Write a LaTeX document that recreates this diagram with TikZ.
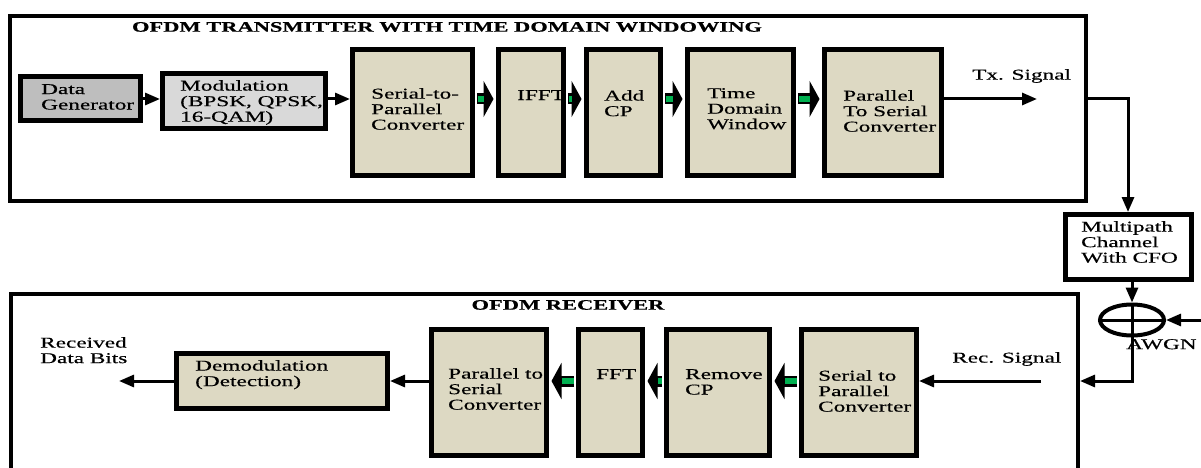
\documentclass[tikz,border=0pt]{standalone}
\usepackage{fontspec}
\setmainfont{Liberation Serif}[FakeStretch=1.55, FakeBold=0.4]
\usetikzlibrary{arrows.meta,shapes.geometric}
\definecolor{blocktan}{RGB}{221,217,195}
\definecolor{gengray}{RGB}{190,190,190}
\definecolor{modgray}{RGB}{217,217,217}
\definecolor{gconn}{RGB}{0,176,80}
\begin{document}
\begin{tikzpicture}[x=1pt,y=-1pt,
  lbl/.style={font=\fontsize{15}{15.5}\selectfont},
  txt/.style={lbl, anchor=north west, inner sep=0pt, align=left},
  ttl/.style={font=\fontsize{14.5}{15}\selectfont\bfseries, inner sep=0pt},
  frame/.style={draw, line width=4pt, inner sep=0pt},
  blk/.style={draw, line width=5pt, inner sep=0pt, fill=blocktan},
  arr/.style={line width=3pt, -{Triangle[length=15pt,width=12pt]}},
  wire/.style={line width=3pt},
  garr/.style={line width=11pt, shorten <=2pt, shorten >=2.5pt,
    -{Triangle[length=10pt,width=36pt]},
    postaction={draw=gconn, line width=6.5pt, -, shorten <=2.5pt, shorten >=12.5pt}}]
\useasboundingbox (0,0) rectangle (1201,468);
\clip (0,0) rectangle (1201,468);

% ---- transmitter ----
\node[frame, minimum width=1076, minimum height=185] (txbox) at (548,108.5) {};
\node[ttl] (txtitle) at (447,27) {OFDM TRANSMITTER WITH TIME DOMAIN WINDOWING};

\node[draw, line width=5pt, fill=gengray, minimum width=120, minimum height=44] (dg) at (80.5,99) {};
\node[draw, line width=5pt, fill=modgray, minimum width=163, minimum height=55] (mod) at (244,101) {};
\node[blk, minimum width=120, minimum height=126] (s2p) at (412.5,112.5) {};
\node[blk, minimum width=65, minimum height=126] (ifft) at (531,112.5) {};
\node[blk, minimum width=74, minimum height=126] (addcp) at (623.5,112.5) {};
\node[blk, minimum width=106, minimum height=126] (tdw) at (740.5,112.5) {};
\node[blk, minimum width=117, minimum height=126] (p2s) at (883,112.5) {};

\node[txt] (dg-t) at (41,84) {Data\\Generator};
\node[txt] (mod-t) at (180,80) {Modulation\\(BPSK, QPSK,\\16-QAM)};
\node[txt] (s2p-t) at (371,88) {Serial-to-\\Parallel\\Converter};
\node[txt] (ifft-t) at (517,90) {IFFT};
\node[txt] (addcp-t) at (604,90) {Add\\CP};
\node[txt] (tdw-t) at (707,88) {Time\\Domain\\Window};
\node[txt] (p2s-t) at (843,90) {Parallel\\To Serial\\Converter};
\node[txt] (txsig-t) at (972,69) {Tx. Signal};

\coordinate (txout) at (1037,99);
\draw[arr] (dg.east) -- (mod.west |- dg.east);
\draw[arr] (mod.east |- dg.east) -- (s2p.west |- dg.east);
\draw[garr] (s2p.east |- dg.east) -- (ifft.west |- dg.east);
\draw[garr] (ifft.east |- dg.east) -- (addcp.west |- dg.east);
\draw[garr] (addcp.east |- dg.east) -- (tdw.west |- dg.east);
\draw[garr] (tdw.east |- dg.east) -- (p2s.west |- dg.east);
\draw[arr] (p2s.east |- dg.east) -- (txout);

% ---- channel ----
\node[draw, line width=5pt, fill=white, minimum width=126, minimum height=65] (mp) at (1128,247) {};
\node[txt] (mp-t) at (1081,221) {Multipath\\Channel\\With CFO};
\node[draw, ellipse, line width=4pt, minimum width=64, minimum height=31, inner sep=0pt] (sum) at (1132,320) {};
\draw[wire] (sum.west) -- (sum.east);
\draw[wire] (sum.north) -- (sum.south);
\node[txt] (awgn-t) at (1126,339) {AWGN};
\coordinate (awgnin) at (1215,320);

\draw[arr] (txbox.east |- dg.east) -| (mp.north);
\draw[arr] (mp.south -| sum.center) -- (sum.north);
\draw[arr] (awgnin) -- (sum.east);

% ---- receiver ----
\node[frame, minimum width=1067, minimum height=204] (rxbox) at (544.5,396) {};
\node[ttl] (rxtitle) at (568,305) {OFDM RECEIVER};

\node[blk, minimum width=211, minimum height=55] (demod) at (282,381) {};
\node[blk, minimum width=115, minimum height=126] (rp2s) at (489,392.5) {};
\node[blk, minimum width=64, minimum height=126] (fft) at (610.5,392.5) {};
\node[blk, minimum width=103, minimum height=126] (remcp) at (718,392.5) {};
\node[blk, minimum width=115, minimum height=126] (rs2p) at (859,392.5) {};

\node[txt] (rdb-t) at (40,337) {Received\\Data Bits};
\node[txt] (demod-t) at (195,360) {Demodulation\\(Detection)};
\node[txt] (rp2s-t) at (448,368) {Parallel to\\Serial\\Converter};
\node[txt] (fft-t) at (596,369) {FFT};
\node[txt] (remcp-t) at (685,369) {Remove\\CP};
\node[txt] (rs2p-t) at (818,370) {Serial to\\Parallel\\Converter};
\node[txt] (recsig-t) at (952,352) {Rec. Signal};

\coordinate (rxin) at (1041,381);
\coordinate (rxout) at (119,381);
\draw[arr] (sum.south) |- (rxbox.east |- demod.east);
\draw[arr] (rxin) -- (rs2p.east |- demod.east);
\draw[garr] (rs2p.west |- demod.east) -- (remcp.east |- demod.east);
\draw[garr] (remcp.west |- demod.east) -- (fft.east |- demod.east);
\draw[garr] (fft.west |- demod.east) -- (rp2s.east |- demod.east);
\draw[arr] (rp2s.west |- demod.east) -- (demod.east);
\draw[arr] (demod.west) -- (rxout);
\end{tikzpicture}
\end{document}
